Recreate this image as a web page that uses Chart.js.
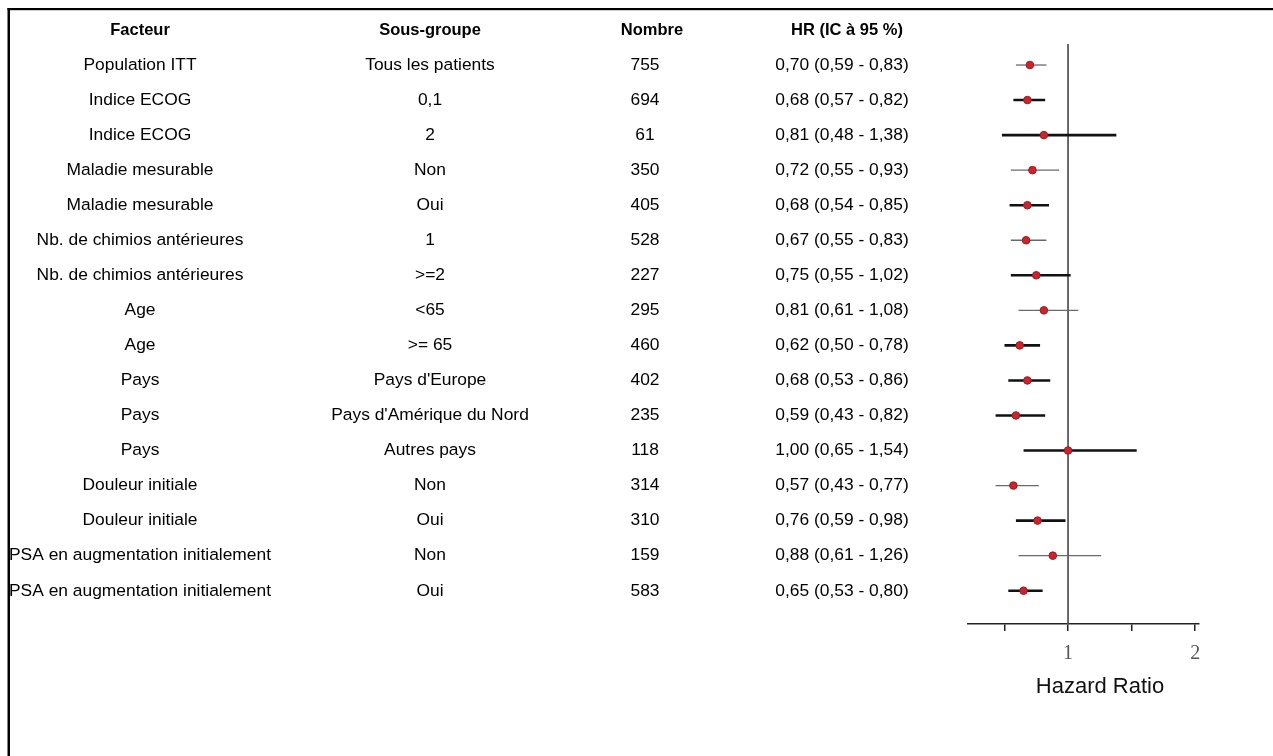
<!DOCTYPE html>
<html>
<head>
<meta charset="utf-8">
<script src="https://cdn.jsdelivr.net/npm/chart.js@4/dist/chart.umd.min.js"></script>
<style>
  html, body { margin: 0; padding: 0; background: #fff; }
  #wrap { width: 1273px; height: 756px; position: relative; }
</style>
</head>
<body>
<div id="wrap"><canvas id="forest" width="1273" height="756"></canvas></div>
<script>
// Subgroup table
const facteurs = [
  'Population ITT', 'Indice ECOG', 'Indice ECOG', 'Maladie mesurable', 'Maladie mesurable',
  'Nb. de chimios antérieures', 'Nb. de chimios antérieures', 'Age', 'Age', 'Pays', 'Pays', 'Pays',
  'Douleur initiale', 'Douleur initiale', 'PSA en augmentation initialement', 'PSA en augmentation initialement'
];
const sousGroupes = [
  'Tous les patients', '0,1', '2', 'Non', 'Oui', '1', '>=2', '<65', '>= 65',
  "Pays d'Europe", "Pays d'Amérique du Nord", 'Autres pays', 'Non', 'Oui', 'Non', 'Oui'
];
const nombres = [755, 694, 61, 350, 405, 528, 227, 295, 460, 402, 235, 118, 314, 310, 159, 583];
const hr   = [0.70, 0.68, 0.81, 0.72, 0.68, 0.67, 0.75, 0.81, 0.62, 0.68, 0.59, 1.00, 0.57, 0.76, 0.88, 0.65];
const icLo = [0.59, 0.57, 0.48, 0.55, 0.54, 0.55, 0.55, 0.61, 0.50, 0.53, 0.43, 0.65, 0.43, 0.59, 0.61, 0.53];
const icHi = [0.83, 0.82, 1.38, 0.93, 0.85, 0.83, 1.02, 1.08, 0.78, 0.86, 0.82, 1.54, 0.77, 0.98, 1.26, 0.80];
const headers = ['Facteur', 'Sous-groupe', 'Nombre', 'HR (IC à 95 %)'];
const xTickValues = [0.5, 1, 1.5, 2];

// Rows whose interval is drawn with a light stroke
const lightRows = [0, 3, 5, 7, 12, 14];

const fmt = v => v.toFixed(2).replace('.', ',');
const hrLabels = hr.map((v, i) => `${fmt(v)} (${fmt(icLo[i])} - ${fmt(icHi[i])})`);

const Y_MIN = 0.4, Y_MAX = 16.95;

const ciDatasets = hr.map((_, i) => {
  const light = lightRows.includes(i);
  return {
    type: 'scatter',
    showLine: true,
    data: [{ x: icLo[i], y: i + 1 }, { x: icHi[i], y: i + 1 }],
    borderColor: light ? '#6a6a6a' : '#111111',
    borderWidth: light ? 1.3 : 2.6,
    pointRadius: 0,
    order: 2
  };
});

const refLine = {
  type: 'scatter',
  showLine: true,
  data: [{ x: 1, y: Y_MIN }, { x: 1, y: Y_MAX }],
  borderColor: '#555',
  borderWidth: 1,
  pointRadius: 0,
  order: 3
};

const points = {
  type: 'scatter',
  data: hr.map((v, i) => ({ x: v, y: i + 1 })),
  pointRadius: 3.8,
  pointBackgroundColor: '#c9252d',
  pointBorderColor: '#9c1a20',
  pointBorderWidth: 1,
  order: 0
};

// Table text, axis title and frame
const tablePlugin = {
  id: 'tablePlugin',
  afterDraw(chart) {
    const ctx = chart.ctx;
    const ys = chart.scales.y;
    const colX = [140, 430, 652, 847];
    const dataX = [140, 430, 645, 842];
    ctx.save();
    ctx.fillStyle = '#000';
    ctx.textAlign = 'center';
    ctx.textBaseline = 'middle';
    ctx.font = 'bold 16.5px "Liberation Sans", Arial, sans-serif';
    const yh = ys.getPixelForValue(0);
    headers.forEach((h, c) => ctx.fillText(h, colX[c], yh));
    ctx.font = '17.4px "Liberation Sans", Arial, sans-serif';
    for (let i = 0; i < hr.length; i++) {
      const y = ys.getPixelForValue(i + 1);
      ctx.fillText(facteurs[i], dataX[0], y);
      ctx.fillText(sousGroupes[i], dataX[1], y);
      ctx.fillText(String(nombres[i]), dataX[2], y);
      ctx.fillText(hrLabels[i], dataX[3], y);
    }
    ctx.font = '22px "Liberation Sans", Arial, sans-serif';
    ctx.fillStyle = '#111';
    ctx.fillText('Hazard Ratio', 1100, 687);
    // frame
    ctx.fillStyle = '#000';
    ctx.fillRect(7.5, 8, 2.5, chart.height - 8);
    ctx.fillRect(7.5, 8, chart.width - 7.5, 2.2);
    ctx.restore();
  }
};

new Chart(document.getElementById('forest'), {
  type: 'scatter',
  data: { datasets: [points, ...ciDatasets, refLine] },
  options: {
    responsive: false,
    animation: false,
    devicePixelRatio: 1,
    layout: { padding: { left: 968, right: 74, top: 44, bottom: 72 } },
    plugins: { legend: { display: false }, tooltip: { enabled: false } },
    scales: {
      x: {
        type: 'linear',
        min: 0.213,
        max: 2.03,
        afterFit: s => { s.height = 60; },
        afterBuildTicks: s => { s.ticks = xTickValues.map(v => ({ value: v })); },
        ticks: {
          includeBounds: false,
          autoSkip: false,
          maxRotation: 0,
          padding: 11,
          color: '#555',
          font: { family: '"Liberation Serif", "Times New Roman", serif', size: 20 },
          callback: v => Number.isInteger(v) ? String(v) : ''
        },
        grid: {
          drawOnChartArea: false,
          drawTicks: true,
          tickLength: 7,
          color: '#222',
          lineWidth: 1.5
        },
        border: { display: true, color: '#222', width: 1.6 }
      },
      y: {
        type: 'linear',
        display: false,
        reverse: true,
        min: Y_MIN,
        max: Y_MAX
      }
    }
  },
  plugins: [tablePlugin]
});
</script>
</body>
</html>
